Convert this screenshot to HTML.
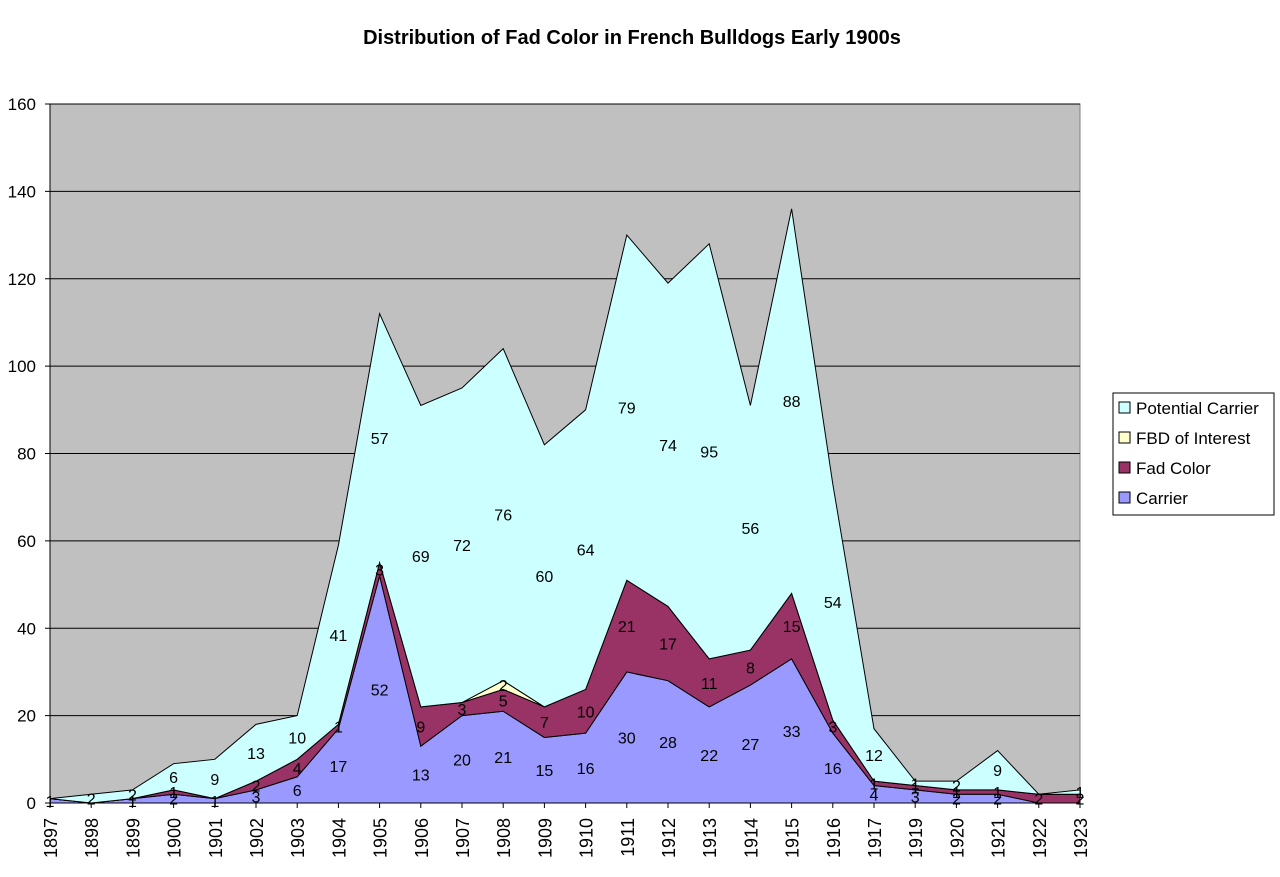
<!DOCTYPE html>
<html><head><meta charset="utf-8"><style>
body{margin:0;background:#fff;}
svg text{font-family:"Liberation Sans",Arial,sans-serif;}
</style></head><body>
<svg id="c" width="1280" height="872" xmlns="http://www.w3.org/2000/svg"></svg>
<script>
const yrs=[1897,1898,1899,1900,1901,1902,1903,1904,1905,1906,1907,1908,1909,1910,1911,1912,1913,1914,1915,1916,1917,1919,1920,1921,1922,1923];
const car=[1,0,1,2,1,3,6,17,52,13,20,21,15,16,30,28,22,27,33,16,4,3,2,2,0,0];
const fad=[0,0,0,1,0,2,4,1,3,9,3,5,7,10,21,17,11,8,15,3,1,1,1,1,2,2];
const fbd=[0,0,0,0,0,0,0,0,0,0,0,2,0,0,0,0,0,0,0,0,0,0,0,0,0,0];
const pot=[0,2,2,6,9,13,10,41,57,69,72,76,60,64,79,74,95,56,88,54,12,1,2,9,0,1];
const X0=50,X1=1080,Y0=803,S=699/160,dx=(X1-X0)/25;
const X=i=>X0+i*dx, Y=v=>Y0-v*S;
let h='';
h+=`<text x="632" y="44" text-anchor="middle" font-size="20" font-weight="bold">Distribution of Fad Color in French Bulldogs Early 1900s</text>`;
h+=`<rect x="${X0}" y="${Y(160)}" width="${X1-X0}" height="${Y0-Y(160)}" fill="#c0c0c0" stroke="#808080"/>`;
for(let v=0;v<=160;v+=20){h+=`<line x1="${X0-5}" x2="${X1}" y1="${Y(v)}" y2="${Y(v)}" stroke="#000" stroke-width="1"/>`;
h+=`<text x="36" y="${Y(v)+6}" text-anchor="end" font-size="17">${v}</text>`;}
const series=[[car,'#9999ff'],[fad,'#993366'],[fbd,'#ffffcc'],[pot,'#ccffff']];
let base=yrs.map(()=>0);let lab='';
for(const [d,col] of series){
 const top=base.map((b,i)=>b+d[i]);
 let p=top.map((v,i)=>`${X(i)},${Y(v)}`).join(' ');
 for(let i=25;i>=0;i--)p+=` ${X(i)},${Y(base[i])}`;
 h+=`<polygon points="${p}" fill="${col}" stroke="#000" stroke-width="1"/>`;
 d.forEach((v,i)=>{if(v>0){lab+=`<text x="${X(i)}" y="${Y(base[i]+v/2)+6}" text-anchor="middle" font-size="16">${v}</text>`;}});
 base=top;
}
h+=lab;
h+=`<line x1="${X0}" x2="${X0}" y1="${Y(160)}" y2="${Y0}" stroke="#000"/><line x1="${X0}" x2="${X1}" y1="${Y0}" y2="${Y0}" stroke="#000"/>`;
yrs.forEach((y,i)=>{h+=`<line x1="${X(i)}" x2="${X(i)}" y1="${Y0}" y2="${Y0+5}" stroke="#000"/>`;
h+=`<text transform="translate(${X(i)+7},818) rotate(-90)" text-anchor="end" font-size="18">${y}</text>`;});
h+=`<rect x="1113" y="393" width="161" height="122" fill="#fff" stroke="#000"/>`;
const leg=[['Potential Carrier','#ccffff'],['FBD of Interest','#ffffcc'],['Fad Color','#993366'],['Carrier','#9999ff']];
leg.forEach((l,i)=>{const y=402+i*30;h+=`<rect x="1119" y="${y}" width="11" height="11" fill="${l[1]}" stroke="#000"/><text x="1136" y="${y+12}" font-size="17">${l[0]}</text>`;});
document.getElementById('c').innerHTML=h;
</script>
</body></html>
